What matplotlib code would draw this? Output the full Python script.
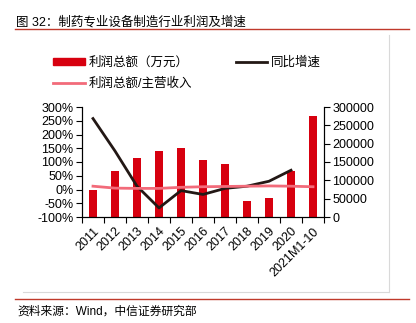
import matplotlib
matplotlib.use("Agg")
from matplotlib import pyplot as plt
from matplotlib.lines import Line2D
from matplotlib.ticker import FuncFormatter, MultipleLocator
import numpy as np

plt.rcParams['font.family'] = ['Liberation Sans', 'Noto Sans CJK SC', 'DejaVu Sans']

############# data #################
years = ["2011", "2012", "2013", "2014", "2015", "2016", "2017",
         "2018", "2019", "2020", "2021M1-10"]
profit = [73600, 126000, 162000, 181000, 187000, 155000, 145000,
          44000, 52000, 126000, 275000]          # 利润总额（万元）
growth = [258, 140, 12, -67, -4, -18, 4, 12, 30, 70]   # 同比增速 (%)
margin = [12, 5, 4, 4, 8, 10, 11, 12, 13, 12, 10]      # 利润总额/主营收入 (%)
####################################

W, H = 416, 323
RED = '#D7000F'
BLACK = '#231815'
PINK = '#F26B7A'
RULE = '#C0392B'

fig = plt.figure(figsize=(W / 100, H / 100), dpi=100)

def px(x0, y0, x1, y1):
    return [x0 / W, 1 - y1 / H, (x1 - x0) / W, (y1 - y0) / H]

ax = fig.add_axes(px(82, 107, 324, 217))
ax2 = ax.twinx()

x = np.arange(len(years))
ax2.bar(x, profit, width=0.4, color=RED, zorder=1)
ax.plot(x[:len(growth)], growth, color=BLACK, lw=2, zorder=3)
ax.plot(x, margin, color=PINK, lw=2, zorder=3)

ax.set_zorder(ax2.get_zorder() + 1)
ax.patch.set_visible(False)

ax.set_xlim(-0.5, len(years) - 0.5)
ax.set_ylim(-100, 300)
ax.yaxis.set_major_locator(MultipleLocator(50))
ax.yaxis.set_major_formatter(FuncFormatter(lambda v, p: "%d%%" % v))
ax2.set_ylim(0, 300000)
ax2.yaxis.set_major_locator(MultipleLocator(50000))

ax.set_xticks(x)
ax.set_xticklabels(years, rotation=45, ha='right', rotation_mode='anchor')
ax.set_xticks(np.arange(-0.5, len(years), 1), minor=True)
ax.tick_params(axis='x', which='major', length=0, pad=6, labelsize=9)
ax.tick_params(axis='x', which='minor', length=4, width=0.8)
ax.tick_params(axis='y', labelsize=9, length=4, width=0.8, pad=2)
ax2.tick_params(axis='y', labelsize=9, length=4, width=0.8, pad=2)

for a in (ax, ax2):
    a.spines['top'].set_visible(False)
    for s in a.spines.values():
        s.set_linewidth(0.8)

handles = [
    plt.Rectangle((0, 0), 1, 1, color=RED),
    Line2D([], [], color=PINK, lw=2),
    Line2D([], [], color=BLACK, lw=2),
]
labels = ["利润总额（万元）", "利润总额/主营收入", "同比增速"]
fig.legend(handles, labels, ncol=2, loc='upper left',
           bbox_to_anchor=(42 / W, 1 - 45 / H), frameon=False,
           fontsize=9, handlelength=2.5, handleheight=0.5,
           columnspacing=3.5, labelspacing=0.7, handletextpad=0.3)

fig.text(16 / W, 1 - 22 / H, "图 32：制药专业设备制造行业利润及增速",
         fontsize=9, va='center', ha='left')
fig.text(17 / W, 1 - 312 / H, "资料来源：Wind，中信证券研究部",
         fontsize=8.5, va='center', ha='left')

fig.add_artist(Line2D([15 / W, 409 / W], [1 - 29 / H] * 2, color=RULE, lw=1))
fig.add_artist(Line2D([15 / W, 409 / W], [1 - 299 / H] * 2, color=RULE, lw=1))
fig.add_artist(Line2D([389 / W] * 2, [1 - 35 / H, 1 - 292 / H], color='#D9D9D9', lw=0.8))
fig.add_artist(Line2D([23 / W, 389 / W], [1 - 292 / H] * 2, color='#D9D9D9', lw=0.8))

fig.savefig("out.png", dpi=100)
